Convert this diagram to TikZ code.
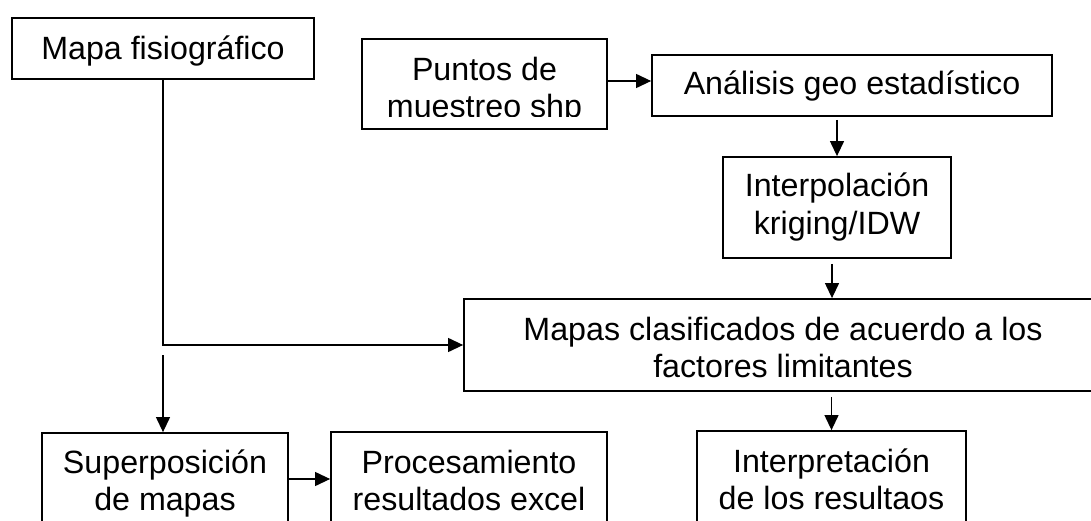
\documentclass[tikz,border=0pt]{standalone}
\usepackage{fontspec}
\setmainfont{Liberation Sans}
\usetikzlibrary{arrows.meta}
\begin{document}
\begin{tikzpicture}[x=1pt,y=-1pt,
  box/.style={draw=black, line width=1.8pt, rectangle, inner sep=0pt},
  txt/.style={anchor=base, inner sep=0pt, font=\fontsize{32.2}{37}\selectfont},
  arr/.style={line width=1.2pt, -{Triangle[length=15pt,width=14pt]}}]
\useasboundingbox (0,0) rectangle (1091,521);
\clip (0,0) rectangle (1091,521);

% boxes
\node[box, minimum width=302pt, minimum height=61pt] (fisio) at (163,48.5) {};
\node[box, minimum width=245pt, minimum height=90pt] (puntos) at (484.5,84) {};
\node[box, minimum width=400pt, minimum height=61pt] (analisis) at (852,85.5) {};
\node[box, minimum width=228pt, minimum height=101pt] (interp) at (837,207.5) {};
\node[box, minimum width=638pt, minimum height=92pt] (mapas) at (783,345) {};
\node[box, minimum width=246pt, minimum height=92pt] (superp) at (165,479) {};
\node[box, minimum width=276pt, minimum height=94pt] (proces) at (469,479) {};
\node[box, minimum width=269pt, minimum height=96pt] (interpret) at (831.5,479) {};

% texts
\node[txt] (fisioT) at (163,60) {Mapa fisiográfico};
\begin{scope}
\clip (362,39) rectangle (607,117);
\node[txt] (puntosT) at (484.5,81) {\begin{tabular}[t]{@{}c@{}}Puntos de\\muestreo shp\end{tabular}};
\end{scope}
\node[txt] (analisisT) at (852,95) {Análisis geo estadístico};
\node[txt] (interpT) at (837,197) {\begin{tabular}[t]{@{}c@{}}Interpolación\\kriging/IDW\end{tabular}};
\node[txt] (mapasT) at (783,340) {\begin{tabular}[t]{@{}c@{}}Mapas clasificados de acuerdo a los\\factores limitantes\end{tabular}};
\node[txt] (superpT) at (165,473) {\begin{tabular}[t]{@{}c@{}}Superposición\\de mapas\end{tabular}};
\node[txt] (procesT) at (469,473) {\begin{tabular}[t]{@{}c@{}}Procesamiento\\resultados excel\end{tabular}};
\node[txt] (interpretT) at (831.5,472) {\begin{tabular}[t]{@{}c@{}}Interpretación\\de los resultaos\end{tabular}};

% connectors
\draw[arr] ([yshift=3pt]puntos.east) -- ([yshift=3pt]puntos.east -| analisis.west);
\draw[arr] ([yshift=-3pt]interp.north |- analisis.south) -- (interp.north);
\draw[arr] ([xshift=-5pt,yshift=-5pt]interp.south) -- ([xshift=-5pt]interp.south |- mapas.north);
\draw[arr] (fisio.south) |- (mapas.west);
\draw[arr] ([yshift=-10pt]fisio.south |- mapas.west) -- (fisio.south |- superp.north);
\draw[arr] (superp.east) -- (proces.west);
\draw[arr] ([yshift=-5pt]interpret.north |- mapas.south) -- (interpret.north);
\end{tikzpicture}
\end{document}
